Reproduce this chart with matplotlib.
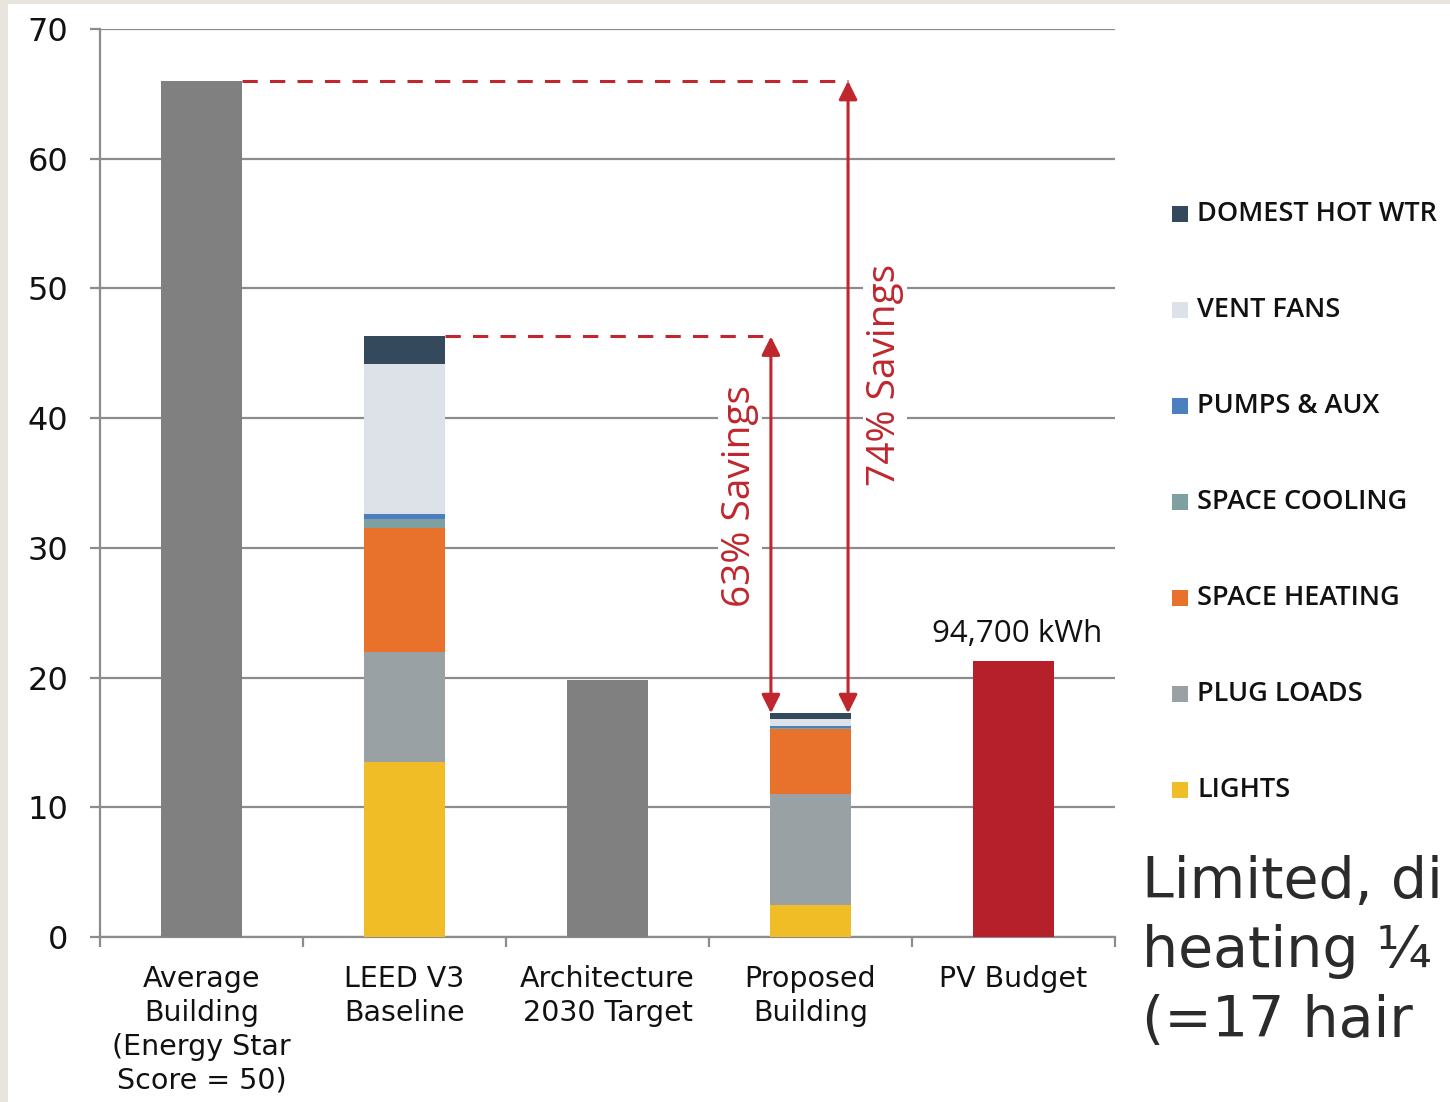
import matplotlib
import matplotlib.pyplot as plt
from matplotlib.patches import Rectangle
import numpy as np

matplotlib.use("Agg")

# energy use intensity by building case (kBtu/sf/yr)
categories = ["Average\nBuilding\n(Energy Star\nScore = 50)", "LEED V3\nBaseline",
              "Architecture\n2030 Target", "Proposed\nBuilding", "PV Budget"]
end_uses = ["LIGHTS", "PLUG LOADS", "SPACE HEATING", "SPACE COOLING",
            "PUMPS & AUX", "VENT FANS", "DOMEST HOT WTR"]
end_use_colors = ["#f0bd27", "#9aa1a5", "#e8722c", "#7fa0a0",
                  "#4b80c0", "#dce2e8", "#344a5c"]
leed_v3 = [13.5, 8.5, 9.5, 0.75, 0.35, 11.6, 2.1]
proposed = [2.5, 8.5, 5.0, 0.1, 0.2, 0.5, 0.45]
average_building = 66.0
arch_2030 = 19.8
pv_budget = 21.3
pv_label = "94,700 kWh"
note_lines = ["Limited, di", "heating ¼", "(=17 hair"]

GRID = "#8c8c8c"
RED = "#c0262d"
BAR_W = 0.395

fig = plt.figure(figsize=(14.5, 11.02), dpi=100, facecolor="#e8e4de")
fig.patches.append(Rectangle((8 / 1450, 0), 1, 1 - 4 / 1102, transform=fig.transFigure,
                             facecolor="white", edgecolor="none", zorder=-10))
ax = fig.add_axes([100 / 1450, 1 - 937 / 1102, 1015 / 1450, 908 / 1102])
ax.set_facecolor("white")

x = np.arange(len(categories))

# solid bars
ax.bar(x[0], average_building, BAR_W, color="#808080", zorder=3)
ax.bar(x[2], arch_2030, BAR_W, color="#808080", zorder=3)
ax.bar(x[4], pv_budget, BAR_W, color="#b5202a", zorder=3)

# stacked end-use bars
for i, stack in ((1, leed_v3), (3, proposed)):
    bottom = 0.0
    for val, col in zip(stack, end_use_colors):
        ax.bar(x[i], val, BAR_W, bottom=bottom, color=col, zorder=3)
        bottom += val

leed_total = sum(leed_v3)
prop_total = sum(proposed)

# savings callouts
arrow_x = (2.805, 3.185)
ax.plot([x[1] + BAR_W / 2, arrow_x[0]], [leed_total, leed_total], color=RED,
        lw=2.2, dashes=(5, 4), zorder=4)
ax.plot([x[0] + BAR_W / 2, arrow_x[1]], [average_building, average_building], color=RED,
        lw=2.2, dashes=(5, 4), zorder=4)
for ax_x, top in zip(arrow_x, (leed_total, average_building)):
    ax.annotate("", xy=(ax_x, prop_total), xytext=(ax_x, top),
                arrowprops=dict(arrowstyle="<|-|>", color=RED, lw=2.2,
                                mutation_scale=28, shrinkA=0, shrinkB=0), zorder=5)

pct_63 = round(100 * (leed_total - prop_total) / leed_total)
pct_74 = round(100 * (average_building - prop_total) / average_building)
ax.text(2.653, 34.0, f"{pct_63}% Savings", rotation=90, ha="center", va="center",
        color=RED, fontsize=28, family="Open Sans", zorder=4,
        bbox=dict(facecolor="white", edgecolor="none", pad=2))
ax.text(3.367, 43.3, f"{pct_74}% Savings", rotation=90, ha="center", va="center",
        color=RED, fontsize=28, family="Open Sans", zorder=4,
        bbox=dict(facecolor="white", edgecolor="none", pad=2))

ax.text(x[4] + 0.02, pv_budget + 0.9, pv_label, ha="center", va="bottom",
        fontsize=22.5, family="Open Sans", color="#111111")

# axes styling
ax.set_xlim(-0.5, 4.5)
ax.set_ylim(0, 70)
ax.set_yticks(np.arange(0, 71, 10))
ax.yaxis.grid(True, color=GRID, lw=1.6)
ax.set_axisbelow(True)
for side in ("top", "right"):
    ax.spines[side].set_visible(False)
for side in ("left", "bottom"):
    ax.spines[side].set_color(GRID)
    ax.spines[side].set_linewidth(1.6)
ax.tick_params(axis="y", length=7, width=1.6, color=GRID, pad=16,
               labelsize=23, labelcolor="#111111")
ax.set_xticks(x)
ax.set_xticklabels(categories, fontsize=20.5, color="#111111", linespacing=1.27, va="top")
ax.set_xticks(np.arange(-0.5, 4.6, 1.0), minor=True)
ax.tick_params(axis="x", which="major", length=0, pad=20)
ax.tick_params(axis="x", which="minor", length=7, width=1.6, color=GRID)

# legend, listed top to bottom
leg_y = np.linspace(1 - 214 / 1102, 1 - 790 / 1102, len(end_uses))
for name, col, yy in zip(end_uses[::-1], end_use_colors[::-1], leg_y):
    fig.patches.append(Rectangle((1172 / 1450, yy - 8 / 1102), 16 / 1450, 16 / 1102,
                                 transform=fig.transFigure, facecolor=col, edgecolor="none"))
    fig.text(1197 / 1450, yy, name, ha="left", va="center", fontsize=19.5,
             family="Open Sans", weight="semibold", color="#111111")

for line, base in zip(note_lines, (898, 967, 1037)):
    fig.text(1142 / 1450, 1 - base / 1102, line, ha="left", va="baseline",
             fontsize=41, family="DejaVu Sans", color="#2b2b2b")

fig.savefig("out.png", dpi=100, facecolor=fig.get_facecolor())
